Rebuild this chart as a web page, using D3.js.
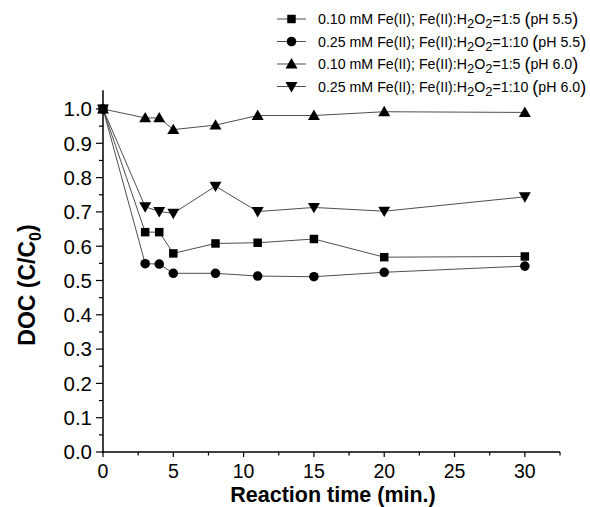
<!DOCTYPE html>
<html><head><meta charset="utf-8">
<script src="https://cdn.jsdelivr.net/npm/d3@7"></script>
<style>body{margin:0;background:#fff}svg{display:block;font-family:"Liberation Sans",Arial,sans-serif}</style>
</head><body><svg id="c" width="590" height="507"></svg>
<script>
const times = [0, 3, 4, 5, 8, 11, 15, 20, 30];
const s1 = [1.0, 0.641, 0.641, 0.579, 0.608, 0.610, 0.621, 0.568, 0.570];
const s2 = [1.0, 0.549, 0.548, 0.521, 0.521, 0.513, 0.511, 0.524, 0.542];
const s3 = [1.0, 0.974, 0.974, 0.940, 0.953, 0.981, 0.981, 0.992, 0.990];
const s4 = [1.0, 0.715, 0.701, 0.696, 0.775, 0.701, 0.713, 0.702, 0.744];
const xTicks = [0, 5, 10, 15, 20, 25, 30];
const yTicks = [0, 0.1, 0.2, 0.3, 0.4, 0.5, 0.6, 0.7, 0.8, 0.9, 1.0];
const legendFe = ["0.10 mM Fe(II); Fe(II):H", "0.25 mM Fe(II); Fe(II):H", "0.10 mM Fe(II); Fe(II):H", "0.25 mM Fe(II); Fe(II):H"];
const legendRatio = ["=1:5", "=1:10", "=1:5", "=1:10"];
const legendPH = ["pH 5.5", "pH 5.5", "pH 6.0", "pH 6.0"];
const symbols = [d3.symbolSquare, d3.symbolCircle, d3.symbolTriangle, d3.symbolTriangle];
const symSize = [72, 72, 62, 62];
const rotations = [0, 0, 0, 180];
const series = [s1, s2, s3, s4];

const svg = d3.select("#c");
const x = d3.scaleLinear().domain([0, 32.5]).range([103, 560]);
const y = d3.scaleLinear().domain([0, 1.0]).range([452, 109]);

// axes
const xAxis = svg.append("g").attr("transform", "translate(0,452)");
xAxis.append("line").attr("x1", x(0) - 1).attr("x2", x(32.5)).attr("stroke", "#000").attr("stroke-width", 1.5);
d3.range(0, 33, 2.5).forEach(v => {
  const major = v % 5 === 0;
  xAxis.append("line").attr("x1", x(v)).attr("x2", x(v)).attr("y1", 0).attr("y2", major ? 5 : 3.5).attr("stroke", "#000").attr("stroke-width", 1.2);
});
xAxis.selectAll("text.t").data(xTicks).join("text").attr("class", "t")
  .attr("x", d => x(d)).attr("y", 26).attr("text-anchor", "middle").attr("font-size", 19.5).text(d => d);

const yAxis = svg.append("g").attr("transform", "translate(103,0)");
yAxis.append("line").attr("y1", y(0) + 1).attr("y2", y(1.055)).attr("stroke", "#000").attr("stroke-width", 1.5);
d3.range(0, 21).forEach(i => {
  const v = i * 0.05;
  const major = i % 2 === 0;
  yAxis.append("line").attr("x1", 0).attr("x2", major ? -7 : -4).attr("y1", y(v)).attr("y2", y(v)).attr("stroke", "#000").attr("stroke-width", 1.2);
});
yAxis.selectAll("text.t").data(yTicks).join("text").attr("class", "t")
  .attr("x", -11).attr("y", d => y(d)).attr("dy", "0.36em").attr("text-anchor", "end").attr("font-size", 20.5).text(d => d.toFixed(1));

// axis titles
svg.append("text").attr("x", 333).attr("y", 502).attr("text-anchor", "middle").attr("font-size", 21.5).attr("font-weight", "bold").text("Reaction time (min.)");
const yt = svg.append("text").attr("transform", "translate(35,285) rotate(-90)").attr("text-anchor", "middle").attr("font-size", 23).attr("font-weight", "bold");
yt.append("tspan").text("DOC (C/C");
yt.append("tspan").attr("font-size", 16).attr("dy", 6).text("0");
yt.append("tspan").attr("dy", -6).text(")");

// lines & markers
const line = d3.line().x((d, i) => x(times[i])).y(d => y(d));
series.forEach((s, k) => {
  svg.append("path").attr("d", line(s)).attr("fill", "none").attr("stroke", "#3a3a3a").attr("stroke-width", 0.9);
});
series.forEach((s, k) => {
  svg.selectAll(null).data(s).join("path")
    .attr("d", d3.symbol().type(symbols[k]).size(symSize[k]))
    .attr("transform", (d, i) => `translate(${x(times[i])},${y(d) + (k === 3 ? -1 : k === 2 ? 1 : 0)}) rotate(${rotations[k]})`)
    .attr("fill", "#000");
});

// legend
const lg = svg.append("g");
[0, 1, 2, 3].forEach(k => {
  const cy = 19 + k * 22.5;
  lg.append("line").attr("x1", 277).attr("x2", 306).attr("y1", cy).attr("y2", cy).attr("stroke", "#3a3a3a").attr("stroke-width", 0.9);
  lg.append("path").attr("d", d3.symbol().type(symbols[k]).size(symSize[k])).attr("transform", `translate(291.5,${cy + (k === 3 ? -1 : k === 2 ? 1 : 0)}) rotate(${rotations[k]})`).attr("fill", "#000");
  const t = lg.append("text").attr("x", 318).attr("y", cy + 5).attr("font-size", 14.2);
  t.append("tspan").text(legendFe[k]);
  t.append("tspan").attr("dy", 4).attr("font-size", 13).text("2");
  t.append("tspan").attr("dy", -4).text("O");
  t.append("tspan").attr("dy", 4).attr("font-size", 13).text("2");
  t.append("tspan").attr("dy", -4).text(legendRatio[k] + " ");
  t.append("tspan").attr("font-size", 18).attr("dy", 1).text("(");
  t.append("tspan").attr("dy", -1).text(legendPH[k]);
  t.append("tspan").attr("font-size", 18).attr("dy", 1).text(")");
});
</script></body></html>
